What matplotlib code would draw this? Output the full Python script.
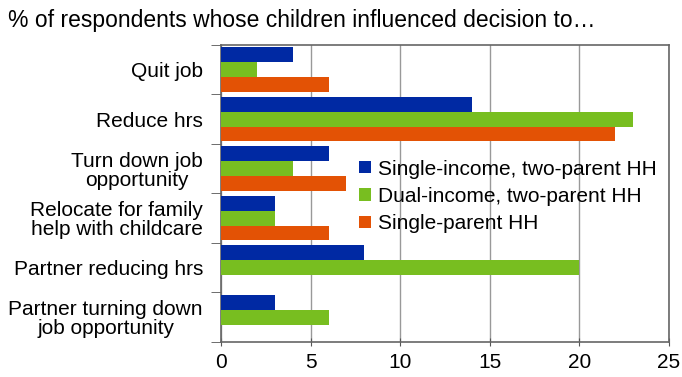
import matplotlib.pyplot as plt
import numpy as np

plt.rcParams['font.family'] = ['Liberation Sans', 'DejaVu Sans']

# categorias (de cima para baixo)
categorias = ['Quit job', 'Reduce hrs', 'Turn down job\nopportunity',
              'Relocate for family\nhelp with childcare', 'Partner reducing hrs',
              'Partner turning down\njob opportunity']
series = ['Single-income, two-parent HH', 'Dual-income, two-parent HH', 'Single-parent HH']
single_income = [4, 14, 6, 3, 8, 3]
dual_income = [2, 23, 4, 3, 20, 6]
single_parent = [6, 22, 7, 6, 0, 0]
cores = ['#0029a3', '#78be20', '#e35205']

fig = plt.figure(figsize=(6.82, 3.77), dpi=100)
ax = fig.add_axes([0.324, 0.093, 0.657, 0.788])

y = np.arange(len(categorias))
h = 0.3
valores = [single_income, dual_income, single_parent]
for i, (v, c, nome) in enumerate(zip(valores, cores, series)):
    ax.barh(y - h + i * h, v, height=h, color=c, label=nome, zorder=3)

ax.set_xlim(0, 25)
ax.set_ylim(len(categorias) - 0.5, -0.5)
ax.set_xticks(range(0, 26, 5))
ax.set_yticks(y)
ax.set_yticklabels(categorias, fontsize=15, linespacing=1.0)
for t in ax.get_yticklabels():
    t.set_multialignment('center')
ax.set_yticks(np.arange(-0.5, len(categorias), 1), minor=True)
ax.tick_params(axis='y', which='major', length=0, pad=13)
ax.tick_params(axis='y', which='minor', length=7, color='#555555', direction='out')
ax.tick_params(axis='x', labelsize=15, length=6, color='#555555', direction='inout', pad=5)
ax.grid(axis='x', color='#999999', linewidth=1, zorder=0)
for s in ax.spines.values():
    s.set_color('#666666')
    s.set_linewidth(1.2)

ax.legend(loc='center right', bbox_to_anchor=(1.0, 0.49), frameon=False, fontsize=15,
          handlelength=0.55, handleheight=0.55, handletextpad=0.35, labelspacing=0.4,
          borderaxespad=0.2)

fig.text(0.012, 0.945, '% of respondents whose children influenced decision to\u2026',
         fontsize=16.5, va='center', ha='left')

fig.savefig('out.png', dpi=100)
